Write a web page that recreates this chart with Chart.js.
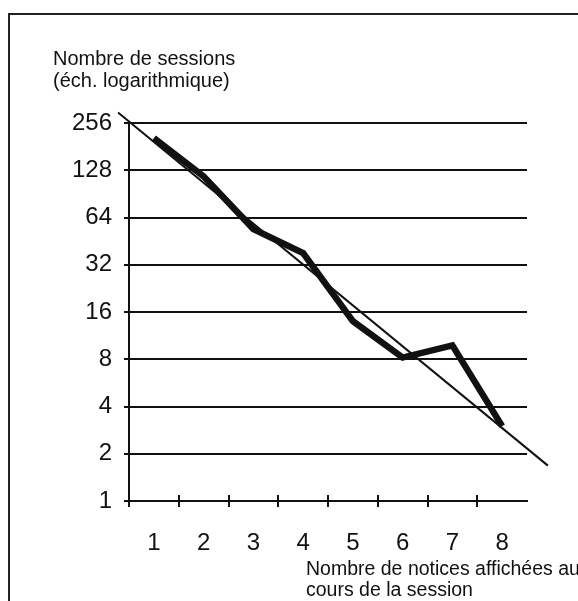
<!DOCTYPE html>
<html>
<head>
<meta charset="utf-8">
<script src="https://cdn.jsdelivr.net/npm/chart.js@4"></script>
<style>
  html, body { margin: 0; padding: 0; background: #fff; }
  #c { display: block; }
</style>
</head>
<body>
<canvas id="c" width="578" height="601"></canvas>
<script>
// ---- data ----
const categories = ['1', '2', '3', '4', '5', '6', '7', '8'];
const sessions = [205, 117, 54, 38, 14, 8.2, 9.8, 3];
const trendX = [0.28, 8.92];
const trendY = [299, 1.68];
const yTickValues = [1, 2, 4, 8, 16, 32, 64, 128, 256];
const yTitle = ['Nombre de sessions', '(éch. logarithmique)'];
const xTitle = ['Nombre de notices affichées au', 'cours de la session'];

const INK = '#111';
const FONT = "'Liberation Sans', Arial, Helvetica, sans-serif";

const decor = {
  id: 'decor',
  beforeDraw(chart) {
    const ctx = chart.ctx;
    ctx.save();
    ctx.fillStyle = '#fff';
    ctx.fillRect(0, 0, chart.width, chart.height);
    ctx.strokeStyle = '#222';
    ctx.lineWidth = 2;
    ctx.beginPath();
    ctx.moveTo(9, chart.height);
    ctx.lineTo(9, 14);
    ctx.lineTo(chart.width, 14);
    ctx.stroke();
    ctx.restore();
  },
  afterDraw(chart) {
    const ctx = chart.ctx;
    const xs = chart.scales.x;
    const area = chart.chartArea;
    ctx.save();
    // upper half of the crossing tick marks on the x axis
    ctx.strokeStyle = INK;
    ctx.lineWidth = 2;
    ctx.beginPath();
    for (let k = 0; k < categories.length; k++) {
      const px = Math.round(xs.getPixelForValue(k + 0.5));
      ctx.moveTo(px, area.bottom - 6);
      ctx.lineTo(px, area.bottom);
    }
    ctx.stroke();
    // titles
    ctx.fillStyle = INK;
    ctx.textAlign = 'left';
    ctx.textBaseline = 'alphabetic';
    ctx.font = '20px ' + FONT;
    ctx.fillText(yTitle[0], 53, 65);
    ctx.fillText(yTitle[1], 53, 87);
    ctx.font = '19.5px ' + FONT;
    ctx.fillText(xTitle[0], 306, 575);
    ctx.fillText(xTitle[1], 306, 596);
    ctx.restore();
  }
};

new Chart(document.getElementById('c'), {
  type: 'line',
  data: {
    datasets: [
      {
        label: 'Sessions',
        data: sessions.map((v, i) => ({ x: i + 1, y: v })),
        borderColor: INK,
        borderWidth: 6.5,
        borderJoinStyle: 'miter',
        pointRadius: 0,
        tension: 0,
        xAxisID: 'x',
        yAxisID: 'y'
      },
      {
        label: 'Tendance',
        data: trendX.map((v, i) => ({ x: v, y: trendY[i] })),
        borderColor: INK,
        borderWidth: 2,
        pointRadius: 0,
        tension: 0,
        clip: false,
        xAxisID: 'x',
        yAxisID: 'y'
      }
    ]
  },
  options: {
    responsive: false,
    animation: false,
    devicePixelRatio: 1,
    layout: { padding: { top: 123, right: 51, left: 0, bottom: 0 } },
    plugins: { legend: { display: false }, tooltip: { enabled: false }, title: { display: false } },
    scales: {
      x: {
        type: 'linear',
        min: 0.5,
        max: 8.5,
        display: false
      },
      xc: {
        type: 'category',
        labels: categories,
        position: 'bottom',
        offset: true,
        afterFit(s) { s.height = 100; },
        grid: {
          offset: true,
          drawOnChartArea: false,
          drawTicks: true,
          tickLength: 6,
          lineWidth: 2,
          color: (c) => c.type === 'tick' ? INK : 'rgba(0,0,0,0)'
        },
        border: { display: true, color: INK, width: 2 },
        ticks: {
          color: INK,
          font: { family: FONT, size: 24 },
          padding: 22,
          maxRotation: 0,
          autoSkip: false
        }
      },
      y: {
        type: 'logarithmic',
        min: 1,
        max: 256,
        afterFit(s) { s.width = 129; },
        afterBuildTicks(s) { s.ticks = yTickValues.map(v => ({ value: v })); },
        grid: {
          color: INK,
          lineWidth: 2,
          drawTicks: true,
          tickLength: 5
        },
        border: { display: true, color: INK, width: 2 },
        ticks: {
          color: INK,
          font: { family: FONT, size: 24 },
          padding: 12,
          callback: (v) => String(v)
        }
      }
    }
  },
  plugins: [decor]
});
</script>
</body>
</html>
